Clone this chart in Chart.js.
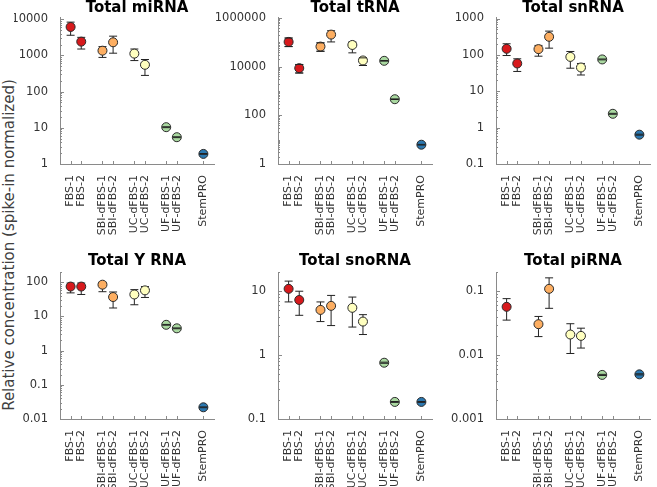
<!DOCTYPE html>
<html>
<head>
<meta charset="utf-8">
<script src="https://cdn.jsdelivr.net/npm/chart.js@4.4.3/dist/chart.umd.min.js"></script>
<style>
  html, body { margin: 0; padding: 0; background: #fff; }
  body { width: 657px; height: 487px; position: relative; overflow: hidden; font-family: "DejaVu Sans", sans-serif; }
  canvas { position: absolute; }
  #ytitle { position: absolute; left: 9px; top: 245px; transform: translate(-50%, -50%) rotate(-90deg);
            white-space: nowrap; font-size: 15px; color: #404040; }
</style>
</head>
<body>
<div id="ytitle">Relative concentration (spike-in normalized)</div>
<canvas id="c1" width="206" height="252" style="left:14px;top:-1px"></canvas>
<canvas id="c2" width="230" height="252" style="left:210px;top:-1px"></canvas>
<canvas id="c3" width="211" height="252" style="left:446px;top:-1px"></canvas>
<canvas id="c4" width="206" height="250" style="left:14px;top:252px"></canvas>
<canvas id="c5" width="230" height="250" style="left:210px;top:252px"></canvas>
<canvas id="c6" width="211" height="250" style="left:446px;top:252px"></canvas>
<script>
// samples along the x axis (gaps between groups)
const categories = ['FBS-1', 'FBS-2', 'SBI-dFBS-1', 'SBI-dFBS-2', 'UC-dFBS-1', 'UC-dFBS-2', 'UF-dFBS-1', 'UF-dFBS-2', 'StemPRO'];
const xPositions = [1, 2, 4, 5, 7, 8, 10, 11, 13.5];
const colors = ['#d7191c', '#d7191c', '#fdae61', '#fdae61', '#ffffbf', '#ffffbf', '#a9d8a0', '#a9d8a0', '#2b78b0'];

// mean values + error bar ends
const miRNA   = [6100, 2400, 1350, 2300, 1120, 550, 10.4, 5.5, 1.9];
const miRNALo = [3600, 1500, 880, 1150, 720, 280, 10.1, 5.35, 1.85];
const miRNAHi = [8300, 3150, 1750, 3400, 1500, 770, 10.7, 5.65, 1.95];

const tRNA   = [104000, 8700, 67000, 208000, 78000, 18000, 17400, 460, 6.2];
const tRNALo = [67000, 5500, 43000, 104000, 37000, 11200, 16900, 447, 6.0];
const tRNAHi = [150000, 12300, 95000, 300000, 104000, 23000, 17900, 473, 6.4];

const snRNA   = [147, 58, 144, 314, 88, 45, 75, 2.4, 0.64];
const snRNALo = [96, 35, 92, 153, 43, 28, 73, 2.33, 0.62];
const snRNAHi = [202, 78, 182, 450, 124, 58, 77, 2.47, 0.66];

const yRNA   = [75, 75, 85, 37, 44, 58, 5.7, 4.5, 0.022];
const yRNALo = [49, 44, 53, 17.7, 22, 36, 5.55, 4.38, 0.0214];
const yRNAHi = [95, 95, 100, 52, 61, 75, 5.85, 4.62, 0.0226];

const snoRNA   = [10.9, 7.3, 5.1, 5.9, 5.5, 3.35, 0.76, 0.185, 0.185];
const snoRNALo = [6.8, 4.2, 3.35, 2.9, 2.75, 2.1, 0.745, 0.182, 0.182];
const snoRNAHi = [14.4, 10, 6.8, 8.6, 8.1, 4.3, 0.775, 0.188, 0.188];

const piRNA   = [0.057, null, 0.0305, 0.109, 0.021, 0.02, 0.0049, null, 0.005];
const piRNALo = [0.0353, null, 0.0195, 0.054, 0.0106, 0.0129, 0.0048, null, 0.0049];
const piRNAHi = [0.0766, null, 0.0403, 0.162, 0.031, 0.0264, 0.005, null, 0.0051];

// labelled y ticks per panel
const miRNATicks  = [1, 10, 100, 1000, 10000];
const tRNATicks   = [1, 100, 10000, 1000000];
const snRNATicks  = [0.1, 1, 10, 100, 1000];
const yRNATicks   = [0.01, 0.1, 1, 10, 100];
const snoRNATicks = [0.1, 1, 10];
const piRNATicks  = [0.001, 0.01, 0.1];

const panels = [
  { id: 'c1', title: 'Total miRNA',  v: miRNA,  lo: miRNALo,  hi: miRNAHi,  ticks: miRNATicks,  min: 1,     max: 11500,   yW: 46, rp: 6, tGap: 0, xH: 87 },
  { id: 'c2', title: 'Total tRNA',   v: tRNA,   lo: tRNALo,   hi: tRNAHi,   ticks: tRNATicks,   min: 1,     max: 1100000, yW: 68, rp: 8, tGap: 0, xH: 87 },
  { id: 'c3', title: 'Total snRNA',  v: snRNA,  lo: snRNALo,  hi: snRNAHi,  ticks: snRNATicks,  min: 0.1,   max: 1100,    yW: 50, rp: 7, tGap: 0, xH: 87 },
  { id: 'c4', title: 'Total Y RNA',  v: yRNA,   lo: yRNALo,   hi: yRNAHi,   ticks: yRNATicks,   min: 0.01,  max: 200,     yW: 46, rp: 6, tGap: 2, xH: 83 },
  { id: 'c5', title: 'Total snoRNA', v: snoRNA, lo: snoRNALo, hi: snoRNAHi, ticks: snoRNATicks, min: 0.1,   max: 20,      yW: 68, rp: 8, tGap: 2, xH: 83 },
  { id: 'c6', title: 'Total piRNA',  v: piRNA,  lo: piRNALo,  hi: piRNAHi,  ticks: piRNATicks,  min: 0.001, max: 0.2,     yW: 50, rp: 7, tGap: 2, xH: 83 },
];

const AXIS = '#8a8a8a', TEXT = '#333';
const tickFont = { family: 'DejaVu Sans', size: 11.5 };
const catFont = { family: 'DejaVu Sans', size: 11 };

// majors + 2..9 minors of every decade inside the range
function logTicks(min, max, majors) {
  const out = [];
  for (let d = Math.floor(Math.log10(min)); d <= Math.ceil(Math.log10(max)); d++) {
    for (let k = 1; k <= 9; k++) {
      const v = Number((k * Math.pow(10, d)).toPrecision(6));
      if (v < min || v > max) continue;
      out.push({ value: v, major: majors.includes(v) });
    }
  }
  return out;
}

// inward tick marks (short for minors)
const innerTicks = {
  id: 'innerTicks',
  beforeDatasetsDraw(chart) {
    const { ctx, chartArea: a, scales: { x, y } } = chart;
    ctx.save();
    ctx.strokeStyle = AXIS; ctx.lineWidth = 1;
    ctx.beginPath();
    x.ticks.forEach(t => {
      const px = Math.round(x.getPixelForValue(t.value)) + 0.5;
      ctx.moveTo(px, a.bottom); ctx.lineTo(px, a.bottom - 3);
    });
    y.ticks.forEach(t => {
      const py = Math.round(y.getPixelForValue(t.value)) + 0.5;
      ctx.moveTo(a.left, py); ctx.lineTo(a.left + (t.major ? 4 : 2), py);
    });
    ctx.stroke();
    ctx.restore();
  }
};

// error bars: whiskers behind the markers, caps that fall inside a marker drawn over it
function drawBars(chart, onTop) {
  const { ctx, scales: { x, y } } = chart;
  chart.data.datasets.forEach(ds => {
    ds.data.forEach((p, i) => {
      if (p.y == null) return;
      const px = x.getPixelForValue(p.x);
      const yl = y.getPixelForValue(ds.lo[i]), yh = y.getPixelForValue(ds.hi[i]);
      const small = (yl - yh) < 2 * ds.pointRadius;
      if (onTop && !small) return;
      ctx.save();
      ctx.strokeStyle = '#222'; ctx.lineWidth = 1;
      ctx.beginPath();
      if (!onTop) { ctx.moveTo(px, yl); ctx.lineTo(px, yh); }
      ctx.moveTo(px - 4, yl); ctx.lineTo(px + 4, yl);
      ctx.moveTo(px - 4, yh); ctx.lineTo(px + 4, yh);
      ctx.stroke();
      ctx.restore();
    });
  });
}
const errorBars = {
  id: 'errorBars',
  beforeDatasetsDraw(chart) { drawBars(chart, false); },
  afterDatasetsDraw(chart) { drawBars(chart, true); }
};

panels.forEach(p => {
  new Chart(document.getElementById(p.id), {
    type: 'scatter',
    data: {
      datasets: [{
        data: xPositions.map((x, i) => ({ x, y: p.v[i] })),
        lo: p.lo, hi: p.hi,
        pointRadius: 4.5,
        pointBackgroundColor: colors,
        pointBorderColor: '#2a2a2a',
        pointBorderWidth: 1,
        showLine: false
      }]
    },
    options: {
      responsive: false,
      animation: false,
      events: [],
      layout: { padding: { left: 0, right: p.rp, top: 0, bottom: 0 } },
      plugins: {
        legend: { display: false },
        tooltip: { enabled: false },
        title: {
          display: true, text: p.title, fullSize: false, color: '#000',
          font: { family: 'DejaVu Sans', size: 15, weight: 'bold' },
          padding: { top: 0, bottom: p.tGap }
        }
      },
      scales: {
        x: {
          type: 'linear', min: 0, max: 14.5,
          afterBuildTicks: s => { s.ticks = xPositions.map(v => ({ value: v })); },
          afterFit: s => { s.height = p.xH; },
          ticks: {
            autoSkip: false, maxRotation: 90, minRotation: 90, padding: 3,
            color: TEXT, font: catFont,
            callback: (v, i) => categories[i]
          },
          grid: { display: false },
          border: { color: AXIS }
        },
        y: {
          type: 'logarithmic', min: p.min, max: p.max,
          afterBuildTicks: s => { s.ticks = logTicks(p.min, p.max, p.ticks); },
          afterFit: s => { s.width = p.yW; },
          ticks: {
            autoSkip: false, padding: 4, color: TEXT, font: tickFont,
            callback: v => p.ticks.includes(v) ? String(v) : ''
          },
          grid: { display: false },
          border: { color: AXIS }
        }
      }
    },
    plugins: [innerTicks, errorBars]
  });
});
</script>
</body>
</html>
